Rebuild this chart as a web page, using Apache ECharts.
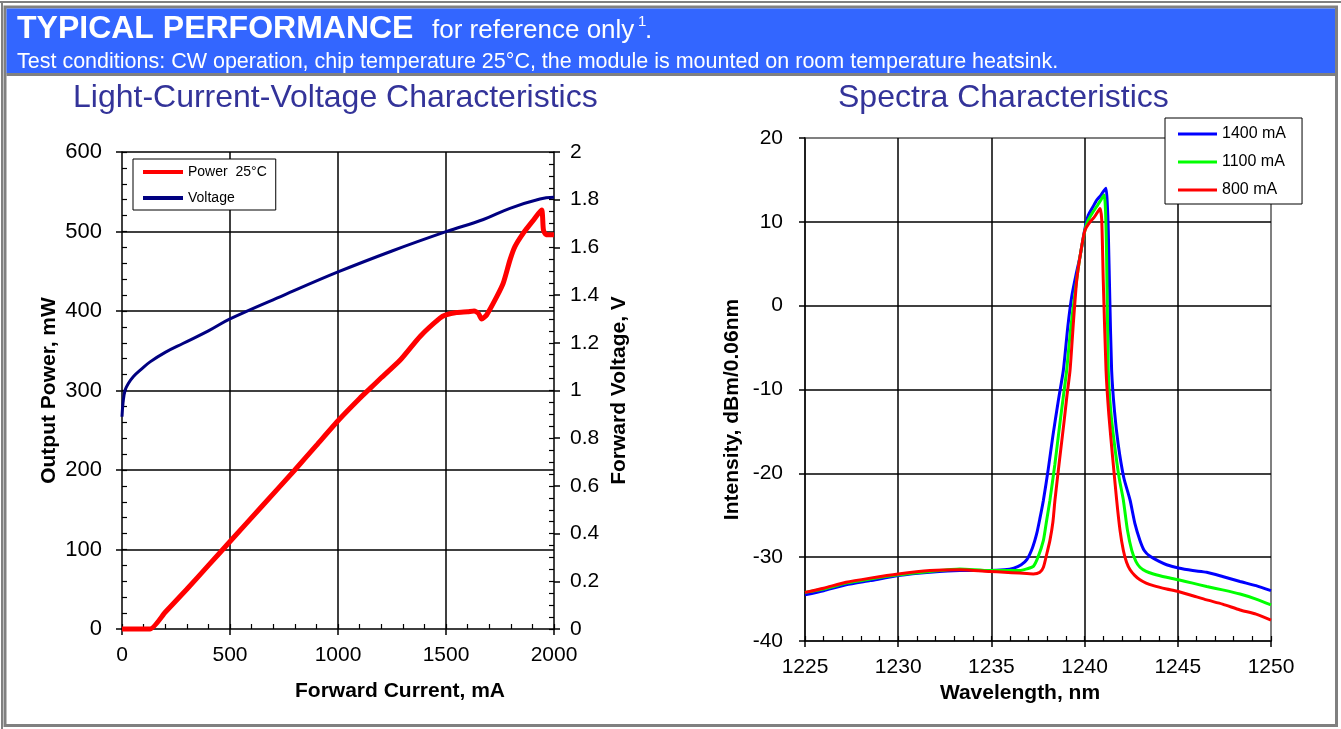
<!DOCTYPE html>
<html>
<head>
<meta charset="utf-8">
<title>Typical Performance</title>
<script src="https://cdn.jsdelivr.net/npm/echarts@6/dist/echarts.min.js"></script>
<style>
  html, body { margin: 0; padding: 0; background: #fff; }
  #chart { width: 1341px; height: 729px; }
</style>
</head>
<body>
<div id="chart"></div>
<script>
  // ---- LIV chart data: [forward current mA, value] ----
  var powerData = [
    [0, 0], [130, 0], [200, 21], [300, 50], [400, 80], [500, 110], [650, 155], [800, 200],
    [900, 231], [1000, 262], [1100, 290],
    [1150, 303], [1200, 316], [1287, 338], [1380, 368], [1472, 391], [1500, 395],
    [1549, 398], [1600, 399], [1630, 400], [1650, 397], [1665, 390], [1688, 395],
    [1735, 418], [1765, 435], [1796, 464], [1819, 481], [1858, 498], [1904, 514],
    [1943, 527], [1947, 519], [1951, 502], [1963, 496], [2000, 496]
  ];
  var voltageData = [
    [0, 0.89], [5, 0.95], [14, 1.0], [30, 1.03], [52, 1.058], [90, 1.09], [130, 1.12],
    [200, 1.16], [284, 1.198], [400, 1.25], [500, 1.30], [750, 1.40], [1000, 1.497],
    [1250, 1.585], [1500, 1.666], [1673, 1.717], [1796, 1.764], [1935, 1.803], [2000, 1.81]
  ];
  var livLegend = ['Power  25°C', 'Voltage'];

  // ---- Spectra data: [wavelength nm, dBm/0.06nm] ----
  var spectrum1400 = [
    [1225, -34.5], [1226, -34.0], [1227.2, -33.3], [1228.5, -32.8], [1230, -32.2], [1231.7, -31.8],
    [1233.3, -31.6], [1234.9, -31.6], [1235.7, -31.5], [1236.2, -31.3], [1236.6, -30.9], [1236.9, -30.3],
    [1237.2, -28.9], [1237.43, -27.2], [1237.6, -25.4], [1237.79, -23.2], [1238.05, -19.5], [1238.3, -15.5],
    [1238.6, -11.2], [1238.86, -7.7], [1239.1, -2.5], [1239.31, 1.1], [1239.55, 3.8], [1239.75, 5.8],
    [1240.0, 9.0], [1240.2, 10.8], [1240.45, 11.8], [1240.65, 12.6], [1240.85, 13.1], [1241.0, 13.6],
    [1241.15, 14.0], [1241.22, 12.0], [1241.27, 9.0], [1241.35, 1.0], [1241.45, -7.7], [1241.6, -12.5],
    [1241.8, -16.5], [1242.1, -20.5], [1242.44, -23.2], [1242.7, -26.0], [1242.97, -28.0], [1243.2, -29.2],
    [1243.51, -29.9], [1244.0, -30.5], [1244.4, -30.9], [1245.03, -31.3], [1245.8, -31.6], [1246.55, -31.8],
    [1247.4, -32.3], [1248.34, -32.9], [1249.2, -33.4], [1250, -34.0]
  ];
  var spectrum1100 = [
    [1225, -34.2], [1226, -33.8], [1227.2, -33.1], [1228.5, -32.6], [1230, -32.1], [1231.7, -31.7],
    [1233.3, -31.4], [1234.9, -31.6], [1235.7, -31.6], [1236.5, -31.6], [1236.9, -31.4], [1237.25, -31.1],
    [1237.5, -30.0], [1237.79, -28.0], [1237.95, -25.8], [1238.14, -23.2], [1238.4, -19.0], [1238.65, -14.5],
    [1238.85, -11.0], [1239.04, -7.7], [1239.25, -2.8], [1239.5, 1.8], [1239.75, 5.8], [1240.0, 8.8],
    [1240.15, 10.0], [1240.4, 11.0], [1240.7, 12.0], [1240.9, 12.7], [1241.05, 13.2], [1241.12, 11.5],
    [1241.18, 6.0], [1241.27, -7.7], [1241.4, -12.5], [1241.6, -16.5], [1241.85, -20.5], [1242.08, -23.2],
    [1242.3, -26.8], [1242.53, -29.2], [1242.75, -30.5], [1242.97, -31.2], [1243.3, -31.7], [1243.69, -32.0],
    [1244.4, -32.4], [1245.03, -32.7], [1245.8, -33.1], [1246.55, -33.5], [1247.4, -33.9], [1248.34, -34.4],
    [1249.2, -35.0], [1250, -35.7]
  ];
  var spectrum800 = [
    [1225, -34.2], [1226, -33.7], [1227.2, -33.0], [1228.5, -32.5], [1230, -32.0], [1231.7, -31.6],
    [1233.3, -31.5], [1234.9, -31.7], [1235.7, -31.8], [1236.5, -31.9], [1237.25, -32.0], [1237.6, -31.8],
    [1237.79, -31.2], [1237.95, -29.8], [1238.14, -28.0], [1238.3, -25.8], [1238.41, -23.2], [1238.65, -18.5],
    [1238.9, -13.8], [1239.05, -10.8], [1239.22, -7.7], [1239.4, -2.0], [1239.58, 3.1], [1239.8, 6.5],
    [1240.02, 9.0], [1240.29, 10.0], [1240.5, 10.5], [1240.65, 11.0], [1240.83, 11.6], [1240.92, 10.2],
    [1241.0, 3.1], [1241.15, -7.7], [1241.3, -13.0], [1241.5, -18.0], [1241.72, -23.2], [1241.9, -26.8],
    [1242.08, -29.2], [1242.25, -30.6], [1242.44, -31.5], [1242.7, -32.2], [1242.97, -32.7], [1243.3, -33.1],
    [1243.69, -33.4], [1244.4, -33.8], [1245.03, -34.1], [1245.8, -34.6], [1246.55, -35.1], [1247.4, -35.6],
    [1248.34, -36.3], [1249.2, -36.8], [1250, -37.5]
  ];
  var spectraLegend = ['1400 mA', '1100 mA', '800 mA'];

  // axis ranges [min, max, interval]
  var currentRange = [0, 2000, 500];
  var powerRange = [0, 600, 100];
  var voltageRange = [0, 2, 0.2];
  var wavelengthRange = [1225, 1250, 5];
  var intensityRange = [-40, 20, 10];

  var FONT = '"Liberation Sans", Arial, Helvetica, sans-serif';
  var BLACK_LINE = { color: '#000', width: 1.5 };
  var plainNumber = function (v) { return String(v); };

  function mainAxis(range, extra) {
    return Object.assign({
      type: 'value',
      min: range[0], max: range[1], interval: range[2],
      axisLine: { show: true, onZero: false, lineStyle: BLACK_LINE },
      axisTick: { show: true, inside: false, length: 6, lineStyle: BLACK_LINE },
      axisLabel: { color: '#000', fontSize: 21, fontFamily: FONT, margin: 16, formatter: plainNumber },
      splitLine: { show: false },
      nameTextStyle: { color: '#000', fontSize: 21, fontWeight: 'bold', fontFamily: FONT }
    }, extra);
  }
  // duplicate axis only for the inward ticks and minor ticks
  function tickAxis(range, extra, minorSplit) {
    return Object.assign({
      type: 'value',
      min: range[0], max: range[1], interval: range[2],
      axisLine: { show: false, onZero: false },
      axisLabel: { show: false },
      splitLine: { show: false },
      axisTick: { show: true, inside: true, length: 5, lineStyle: { color: '#000', width: 1.2 } },
      minorTick: { show: true, splitNumber: minorSplit, length: 5, lineStyle: { color: '#000', width: 1.2 } }
    }, extra);
  }

  var myChart = echarts.init(document.getElementById('chart'));

  var option = {
    backgroundColor: '#fff',
    animation: false,
    textStyle: { fontFamily: FONT },
    title: [
      { text: 'Light-Current-Voltage Characteristics', left: 73, top: 82, padding: 0,
        textStyle: { color: '#333399', fontSize: 32, fontWeight: 'normal', fontFamily: FONT } },
      { text: 'Spectra Characteristics', left: 838, top: 82, padding: 0,
        textStyle: { color: '#333399', fontSize: 32, fontWeight: 'normal', fontFamily: FONT } }
    ],
    grid: [
      { left: 122, top: 152, width: 432, height: 477, show: false },
      { left: 805, top: 138, width: 466, height: 503, show: true, backgroundColor: 'transparent',
        borderColor: '#808080', borderWidth: 2 }
    ],
    legend: [
      {
        data: livLegend, left: 133, top: 159, orient: 'vertical',
        backgroundColor: '#fff', borderColor: '#000', borderWidth: 1,
        padding: [6, 9, 5, 10], itemGap: 12, itemWidth: 40, itemHeight: 4, icon: 'rect',
        textStyle: { color: '#000', fontSize: 14, fontFamily: FONT }
      },
      {
        data: spectraLegend, left: 1165, top: 118, orient: 'vertical',
        backgroundColor: '#fff', borderColor: '#000', borderWidth: 1,
        padding: [8, 16, 6, 13], itemGap: 12, itemWidth: 39, itemHeight: 3, icon: 'rect',
        textStyle: { color: '#000', fontSize: 16, fontFamily: FONT }
      }
    ],
    xAxis: [
      mainAxis(currentRange, {
        gridIndex: 0, position: 'bottom',
        splitLine: { show: true, showMinLine: false, showMaxLine: false, lineStyle: BLACK_LINE },
        name: 'Forward Current, mA', nameLocation: 'middle', nameGap: 52,
        nameTextStyle: { color: '#000', fontSize: 21, fontWeight: 'bold', fontFamily: FONT, padding: [0, 0, 0, 124] }
      }),
      tickAxis(currentRange, { gridIndex: 0, position: 'bottom' }, 5),
      mainAxis(wavelengthRange, {
        gridIndex: 1, position: 'bottom',
        splitLine: { show: true, showMinLine: false, showMaxLine: false, lineStyle: BLACK_LINE },
        name: 'Wavelength, nm', nameLocation: 'middle', nameGap: 41,
        nameTextStyle: { color: '#000', fontSize: 21, fontWeight: 'bold', fontFamily: FONT, padding: [0, 36, 0, 0] }
      }),
      tickAxis(wavelengthRange, { gridIndex: 1, position: 'bottom' }, 5)
    ],
    yAxis: [
      mainAxis(powerRange, {
        gridIndex: 0, position: 'left',
        axisLabel: { color: '#000', fontSize: 22, fontFamily: FONT, margin: 20, formatter: plainNumber },
        splitLine: { show: true, showMinLine: false, showMaxLine: true, lineStyle: BLACK_LINE },
        name: 'Output Power, mW', nameLocation: 'middle', nameRotate: 90, nameGap: 62
      }),
      tickAxis(powerRange, { gridIndex: 0, position: 'left' }, 5),
      mainAxis(voltageRange, {
        gridIndex: 0, position: 'right',
        axisLabel: { color: '#000', fontSize: 21, fontFamily: FONT, margin: 16, formatter: plainNumber },
        name: 'Forward Voltage, V', nameLocation: 'middle', nameRotate: 90, nameGap: 55
      }),
      tickAxis(voltageRange, { gridIndex: 0, position: 'right' }, 4),
      mainAxis(intensityRange, {
        gridIndex: 1, position: 'left',
        axisLabel: { color: '#000', fontSize: 21, fontFamily: FONT, margin: 22, formatter: plainNumber },
        splitLine: { show: true, showMinLine: false, showMaxLine: false, lineStyle: BLACK_LINE },
        name: 'Intensity, dBm/0.06nm', nameLocation: 'middle', nameRotate: 90, nameGap: 62,
        nameTextStyle: { color: '#000', fontSize: 21, fontWeight: 'bold', fontFamily: FONT, padding: [0, 40, 0, 0] }
      })
    ],
    series: [
      {
        name: livLegend[0], type: 'line', xAxisIndex: 0, yAxisIndex: 0, data: powerData,
        symbol: 'none', smooth: 0.2, clip: false, z: 3,
        lineStyle: { color: '#ff0000', width: 5 }, itemStyle: { color: '#ff0000' }
      },
      {
        name: livLegend[1], type: 'line', xAxisIndex: 0, yAxisIndex: 2, data: voltageData,
        symbol: 'none', smooth: 0.4, clip: false, z: 3,
        lineStyle: { color: '#000080', width: 3 }, itemStyle: { color: '#000080' }
      },
      {
        name: spectraLegend[0], type: 'line', xAxisIndex: 2, yAxisIndex: 4, data: spectrum1400,
        symbol: 'none', smooth: 0.2, z: 3,
        lineStyle: { color: '#0000ff', width: 3 }, itemStyle: { color: '#0000ff' }
      },
      {
        name: spectraLegend[1], type: 'line', xAxisIndex: 2, yAxisIndex: 4, data: spectrum1100,
        symbol: 'none', smooth: 0.2, z: 3,
        lineStyle: { color: '#00ff00', width: 3 }, itemStyle: { color: '#00ff00' }
      },
      {
        name: spectraLegend[2], type: 'line', xAxisIndex: 2, yAxisIndex: 4, data: spectrum800,
        symbol: 'none', smooth: 0.2, z: 3,
        lineStyle: { color: '#ff0000', width: 3 }, itemStyle: { color: '#ff0000' }
      }
    ],
    graphic: [
      // page frame
      { type: 'rect', silent: true, shape: { x: 0, y: 1, width: 1341, height: 2 }, style: { fill: '#808080' } },
      { type: 'rect', silent: true, shape: { x: 1, y: 1, width: 2, height: 728 }, style: { fill: '#808080' } },
      { type: 'rect', silent: true, shape: { x: 5, y: 7, width: 1331.5, height: 718.5 },
        style: { fill: 'none', stroke: '#808080', lineWidth: 3 } },
      // header band
      { type: 'rect', silent: true, shape: { x: 6.5, y: 8.5, width: 1328.5, height: 65 }, style: { fill: '#3366ff' } },
      { type: 'rect', silent: true, shape: { x: 6.5, y: 73, width: 1328.5, height: 3 }, style: { fill: '#808080' } },
      { type: 'text', silent: true, x: 17, y: 29,
        style: { text: 'TYPICAL PERFORMANCE', fill: '#fff', font: 'bold 32px ' + FONT, verticalAlign: 'middle' } },
      { type: 'text', silent: true, x: 432, y: 31,
        style: { text: 'for reference only', fill: '#fff', font: '26px ' + FONT, verticalAlign: 'middle' } },
      { type: 'text', silent: true, x: 638, y: 22,
        style: { text: '1', fill: '#fff', font: '15px ' + FONT, verticalAlign: 'middle' } },
      { type: 'text', silent: true, x: 645, y: 31,
        style: { text: '.', fill: '#fff', font: '26px ' + FONT, verticalAlign: 'middle' } },
      { type: 'text', silent: true, x: 17, y: 62,
        style: { text: 'Test conditions: CW operation, chip temperature 25°C, the module is mounted on room temperature heatsink.',
          fill: '#fff', font: '21.5px ' + FONT, verticalAlign: 'middle' } }
    ]
  };

  myChart.setOption(option);
  window.addEventListener('resize', myChart.resize);
</script>
</body>
</html>
